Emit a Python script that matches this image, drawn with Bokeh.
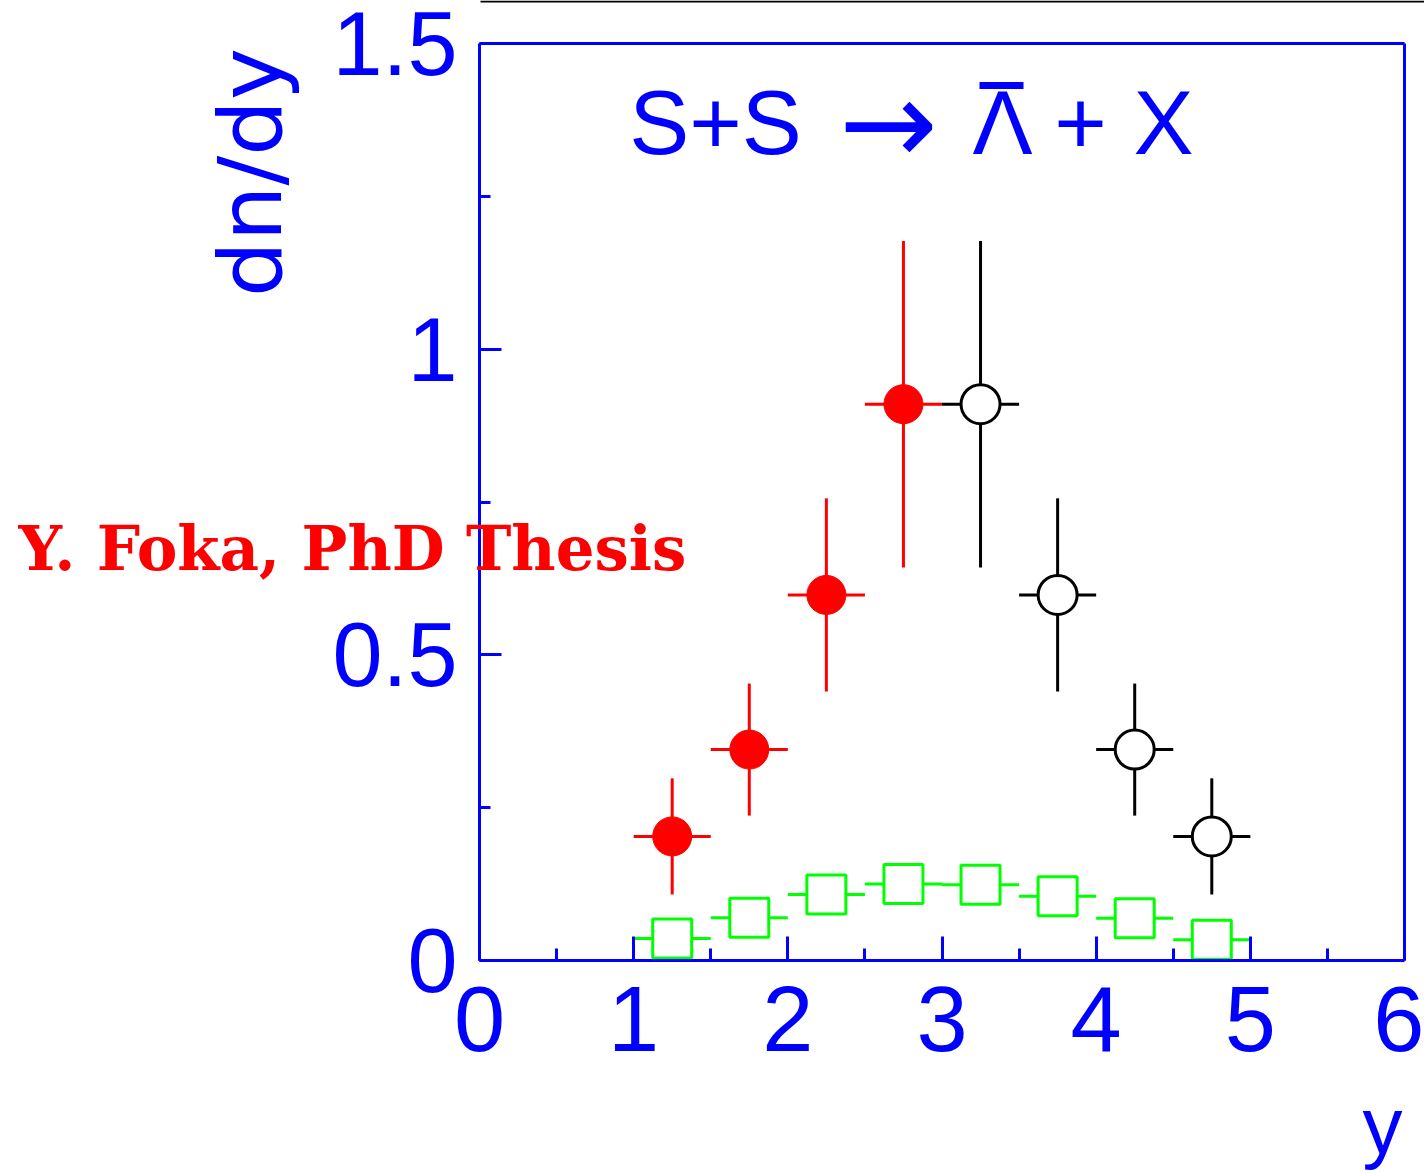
from bokeh.plotting import figure
from bokeh.models import Range1d, FixedTicker, Label, LinearAxis
from bokeh.embed import file_html
from bokeh.resources import INLINE

# Anti-Lambda rapidity distribution in S+S collisions
# measured points (filled) and their reflection about mid-rapidity (open)
meas_y = [1.25, 1.75, 2.25, 2.75]
meas_dndy = [0.203, 0.345, 0.598, 0.910]
meas_err = [0.095, 0.108, 0.158, 0.267]

refl_y = [3.25, 3.75, 4.25, 4.75]
refl_dndy = [0.910, 0.598, 0.345, 0.203]
refl_err = [0.267, 0.158, 0.108, 0.095]

# model curve points
model_y = [1.25, 1.75, 2.25, 2.75, 3.25, 3.75, 4.25, 4.75]
model_dndy = [0.036, 0.070, 0.108, 0.125, 0.124, 0.105, 0.069, 0.034]

bin_half = 0.25

x_ticks = [0, 1, 2, 3, 4, 5, 6]
x_minor = [0.5, 1.5, 2.5, 3.5, 4.5, 5.5]
y_ticks = [0, 0.5, 1.0, 1.5]
y_tick_labels = ["0", "0.5", "1", "1.5"]
y_minor = [0.25, 0.75, 1.25]

BLUE = "#0000ff"
FONT = "Liberation Sans"

# page geometry (pixels): where the data box sits on the canvas
W, H = 1424, 1171
BOX_L, BOX_R, BOX_T, BOX_B = 479.0, 1404.0, 43.0, 960.0
XMAX, YMAX = 6.0, 1.5
sx = (BOX_R - BOX_L) / XMAX
sy = (BOX_B - BOX_T) / YMAX

def dx(px):
    return (px - BOX_L) / sx
def dy(py):
    return (BOX_B - py) / sy

p = figure(width=W, height=H, output_backend="svg", toolbar_location=None,
           x_range=Range1d(dx(0), dx(W)), y_range=Range1d(dy(H), dy(0)),
           x_axis_type=None, y_axis_type=None,
           min_border=0, min_border_left=0, min_border_right=0,
           min_border_top=0, min_border_bottom=0)
p.xgrid.visible = False
p.ygrid.visible = False
p.outline_line_color = None
p.background_fill_color = "white"
p.border_fill_color = "white"


def style_axis(ax, size="92px"):
    ax.axis_line_color = BLUE
    ax.axis_line_width = 3
    ax.major_tick_line_color = BLUE
    ax.minor_tick_line_color = BLUE
    ax.major_tick_line_width = 3
    ax.minor_tick_line_width = 3
    ax.major_tick_out = 0
    ax.minor_tick_out = 0
    ax.major_label_text_color = BLUE
    ax.major_label_text_font = FONT
    ax.major_label_text_font_size = size


xaxis = LinearAxis(fixed_location=0, bounds=(0, XMAX),
                   ticker=FixedTicker(ticks=x_ticks, minor_ticks=x_minor))
style_axis(xaxis)
xaxis.major_tick_in = 24
xaxis.minor_tick_in = 12
xaxis.major_label_standoff = 26
p.add_layout(xaxis, "below")

yaxis = LinearAxis(fixed_location=0, bounds=(0, YMAX),
                   ticker=FixedTicker(ticks=y_ticks, minor_ticks=y_minor))
style_axis(yaxis, "90px")
yaxis.major_label_overrides = {t: s for t, s in zip(y_ticks, y_tick_labels)}
yaxis.major_tick_in = 22
yaxis.minor_tick_in = 11
yaxis.major_label_standoff = 22
p.add_layout(yaxis, "left")

# closing edges of the frame
for loc, side, bnds in ((YMAX, "above", (0, XMAX)), (XMAX, "right", (0, YMAX))):
    edge = LinearAxis(fixed_location=loc, bounds=bnds,
                      ticker=FixedTicker(ticks=[], minor_ticks=[]))
    style_axis(edge)
    edge.major_label_text_alpha = 0
    p.add_layout(edge, side)

# error bars
def errbars(xs, ys, yerr, color):
    p.segment(x0=[x - bin_half for x in xs], x1=[x + bin_half for x in xs],
              y0=ys, y1=ys, line_color=color, line_width=3)
    if yerr is not None:
        p.segment(x0=xs, x1=xs, y0=[y - e for y, e in zip(ys, yerr)],
                  y1=[y + e for y, e in zip(ys, yerr)], line_color=color, line_width=3)

errbars(model_y, model_dndy, None, "#00ff00")
errbars(meas_y, meas_dndy, meas_err, "#ff0000")
errbars(refl_y, refl_dndy, refl_err, "black")

p.scatter(model_y, model_dndy, marker="square", size=39, fill_color="white",
          line_color="#00ff00", line_width=3)
p.scatter(meas_y, meas_dndy, marker="circle", size=39, fill_color="#ff0000",
          line_color="#ff0000", line_width=1)
p.scatter(refl_y, refl_dndy, marker="circle", size=39, fill_color="white",
          line_color="black", line_width=3)

# reaction label
title_parts = [("S+S", 715, FONT, 90), ("\u2192", 888, "DejaVu Sans", 118),
               ("\u039b", 1002, FONT, 90), ("+", 1080, FONT, 90), ("X", 1163, FONT, 90)]
for txt, cx, fnt, fs in title_parts:
    p.add_layout(Label(x=dx(cx), y=dy(122), text=txt, text_align="center",
                       text_baseline="middle", text_color=BLUE,
                       text_font=fnt, text_font_size=f"{fs}px"))
p.segment(x0=[dx(979)], x1=[dx(1023)], y0=[dy(85)], y1=[dy(85)],
          line_color=BLUE, line_width=7)

# axis titles
p.add_layout(Label(x=dx(250), y=dy(172), text="dn/dy", angle=90, angle_units="deg",
                   text_align="center", text_baseline="middle", text_color=BLUE,
                   text_font="DejaVu Sans", text_font_size="88px"))
p.add_layout(Label(x=dx(1402), y=dy(1125), text="y", text_align="right",
                   text_baseline="middle", text_color=BLUE,
                   text_font=FONT, text_font_size="80px"))

# author credit
p.add_layout(Label(x=dx(18), y=dy(548), text="Y. Foka, PhD Thesis", text_align="left",
                   text_baseline="middle", text_color="#ff0000",
                   text_font="DejaVu Serif", text_font_style="bold",
                   text_font_size="61px"))

# thin rule along the top edge of the page
p.segment(x0=[dx(480)], x1=[dx(W)], y0=[dy(1)], y1=[dy(1)],
          line_color="black", line_width=2)

open("out.html", "w").write(file_html(p, INLINE))
